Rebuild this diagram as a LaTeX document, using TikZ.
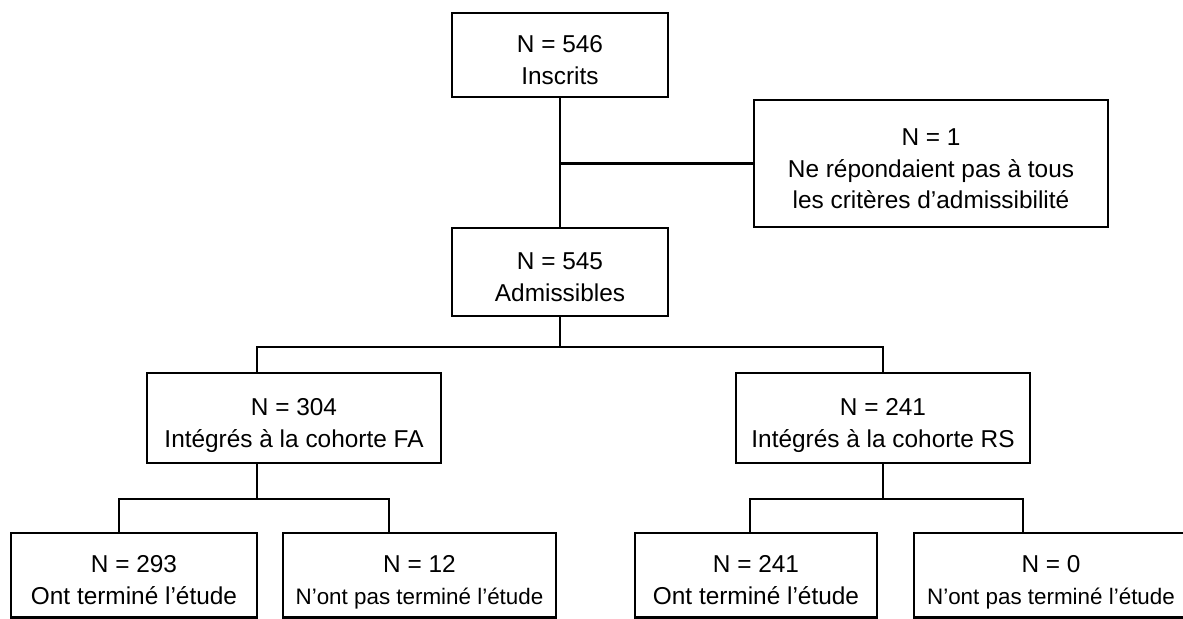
\documentclass[tikz,border=0pt]{standalone}
\usepackage{fontspec}
\setmainfont{Liberation Sans}
\newcommand{\lowtxt}[1]{{\fontsize{11.2}{15.8}\selectfont #1}}
\newcommand{\tstrut}{\rule{0pt}{16pt}}
\newcommand{\bstrut}{\rule[-2.5pt]{0pt}{0pt}}
\begin{document}
\begin{tikzpicture}[x=0.5pt, y=-0.5pt, line width=1.4pt,
	every node/.style={draw, line width=1.4pt, align=center, inner sep=0pt,
		font=\fontsize{12.2}{15.8}\selectfont}]
				\useasboundingbox (0,0) rectangle (1183,618);

\node[minimum width=108pt, minimum height=42pt] (n01) at (560, 55) {\tstrut N = 546\\Inscrits\bstrut};

\node[minimum width=177pt, minimum height=63.5pt] (n11) at (931, 163.5) {\tstrut N = 1\\Ne répondaient pas à tous\\les critères d’admissibilité\bstrut};

\node[minimum width=108pt, minimum height=44pt] (n21) at (560, 272) {\tstrut N = 545\\Admissibles\bstrut};

\node[minimum width=147pt, minimum height=45pt] (n31) at (294, 418) {\tstrut N = 304\\Intégrés à la cohorte FA\bstrut};
\node[minimum width=147pt, minimum height=45pt] (n32) at (883, 418) {\tstrut N = 241\\Intégrés à la cohorte RS\bstrut};

\node[minimum width=123pt, minimum height=42.25pt] (n41) at (134, 575.25) {\tstrut N = 293\\Ont terminé l’étude\bstrut};
\node[minimum width=136.5pt, minimum height=42.25pt] (n42) at (419.5, 575.25) {\tstrut N = 12\\\lowtxt{N’ont pas terminé l’étude}\bstrut};
\node[minimum width=121pt, minimum height=42.25pt] (n43) at (756, 575.25) {\tstrut N = 241\\Ont terminé l’étude\bstrut};
\node[minimum width=137pt, minimum height=42.25pt] (n44) at (1051, 575.25) {\tstrut N = 0\\\lowtxt{N’ont pas terminé l’étude}\bstrut};

\coordinate (c1) at (560, 163.5);
\coordinate (c2l) at (257, 347);
\coordinate (c2r) at (883, 347);
\coordinate (c3) at (257, 499);
\coordinate (c3l) at (119, 499);
\coordinate (c3r) at (389, 499);
\coordinate (c4l) at (750, 499);
\coordinate (c4r) at (1023, 499);

\draw (n01) -- (n21);
\draw (c1) -- (n11.west);

\draw (n21.south) -- (n21.south |- c2l);
\draw (n31.north -| c2l) -- (c2l) -- (c2r) -- (n32.north);

\draw (n31.south -| c3) -- (c3);
\draw (n41.north -| c3l) -- (c3l) -- (c3r) -- (n42.north -| c3r);

\draw (n32.south) -- (n32.south |- c4l);
\draw (n43.north -| c4l) -- (c4l) -- (c4r) -- (n44.north -| c4r);
			\end{tikzpicture}
\end{document}
